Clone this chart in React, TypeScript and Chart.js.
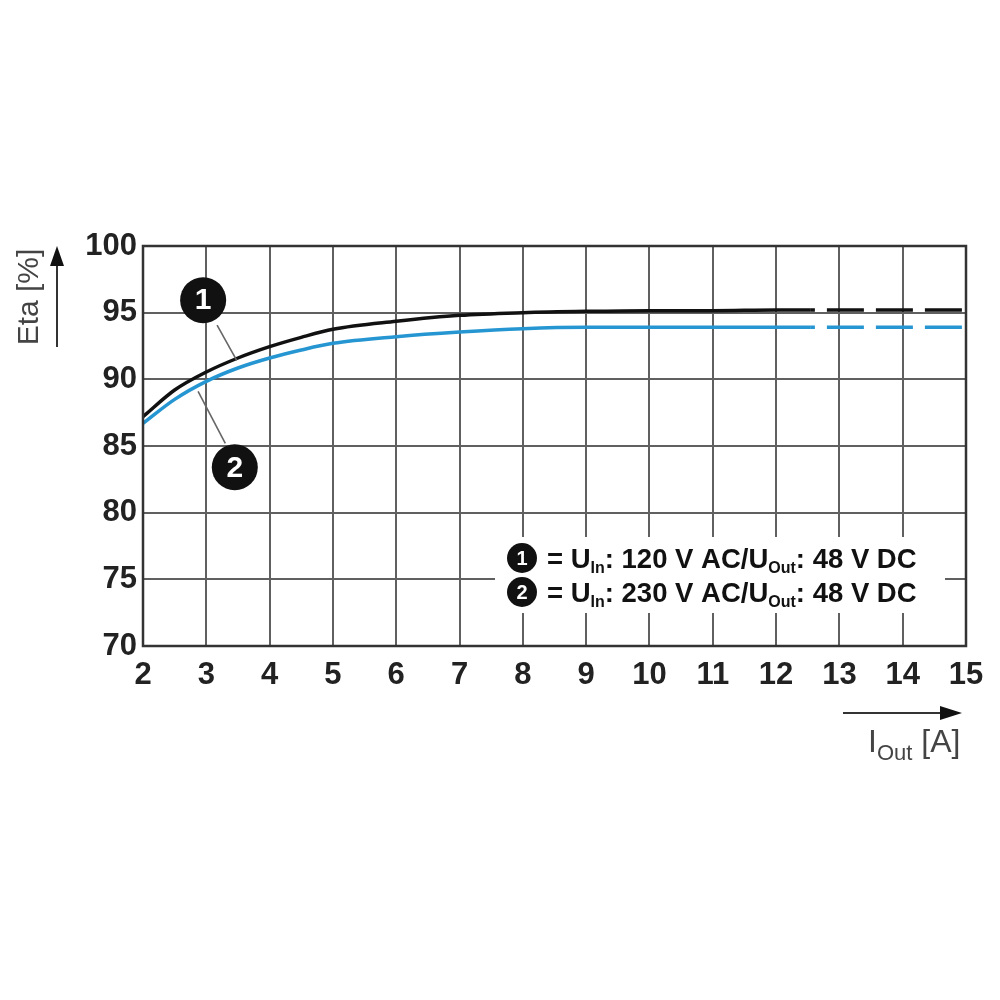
import { useEffect, useRef } from "react";
import { Chart, registerables } from "chart.js";

Chart.register(...registerables);

// output current in A
const currentA = [2, 2.5, 3, 3.5, 4, 4.5, 5, 6, 7, 8, 9, 10, 11, 12, 12.55, 15];
// efficiency in %, curve 1 (120 V AC in) and curve 2 (230 V AC in)
const eta120 = [87.2, 89.2, 90.55, 91.6, 92.45, 93.15, 93.75, 94.35, 94.8, 95.0, 95.1, 95.15, 95.15, 95.2, 95.2, 95.2];
const eta230 = [86.7, 88.5, 89.85, 90.85, 91.6, 92.2, 92.7, 93.2, 93.55, 93.8, 93.9, 93.9, 93.9, 93.9, 93.9, 93.9];
// beyond this current the curves are drawn dashed
const measuredUpTo = 12.55;

const xTicks = [2, 3, 4, 5, 6, 7, 8, 9, 10, 11, 12, 13, 14, 15];
const yTicks = [70, 75, 80, 85, 90, 95, 100];

const markerLabels = ["1", "2"];
const inputVoltages = ["120", "230"];
const outputVoltage = "48";

const FONT = "'Liberation Sans', Arial, sans-serif";
const BLUE = "#2596d1";

type Pt = [number, number];
// callout anchors in data units: circle centre, leader start, leader end
const markerCircles: Pt[] = [
  [2.95, 95.94],
  [3.45, 83.4],
];
const markerLeaders: [Pt, Pt][] = [
  [
    [3.17, 94.06],
    [3.48, 91.43],
  ],
  [
    [2.87, 89.1],
    [3.3, 85.2],
  ],
];

const drawBullet = (ctx: CanvasRenderingContext2D, x: number, y: number, r: number, label: string, size: number) => {
  ctx.beginPath();
  ctx.arc(x, y, r, 0, Math.PI * 2);
  ctx.fillStyle = "#111";
  ctx.fill();
  ctx.fillStyle = "#fff";
  ctx.font = `bold ${size}px ${FONT}`;
  ctx.textAlign = "center";
  ctx.textBaseline = "middle";
  ctx.fillText(label, x, y + 1);
};

// draws text pieces left to right; pieces with sub=true are lowered and smaller
const drawRich = (
  ctx: CanvasRenderingContext2D,
  parts: { t: string; sub?: boolean }[],
  x: number,
  y: number,
  main: string,
  sub: string,
  drop: number
) => {
  ctx.textAlign = "left";
  ctx.textBaseline = "alphabetic";
  let cx = x;
  parts.forEach((p) => {
    ctx.font = p.sub ? sub : main;
    ctx.fillText(p.t, cx, p.sub ? y + drop : y);
    cx += ctx.measureText(p.t).width;
  });
};

const decorPlugin = {
  id: "decor",
  beforeDatasetsDraw(chart: Chart) {
    const { ctx, chartArea: a } = chart;
    ctx.save();
    ctx.fillStyle = "#fff";
    ctx.fillRect(a.right - 471, a.bottom - 109, 450, 76);
    ctx.restore();
  },
  afterDraw(chart: Chart) {
    const { ctx, chartArea: a } = chart;
    const xs = chart.scales.x;
    const ys = chart.scales.y;
    ctx.save();

    // frame
    ctx.strokeStyle = "#333";
    ctx.lineWidth = 2.5;
    ctx.strokeRect(a.left, a.top, a.right - a.left, a.bottom - a.top);

    // callouts
    ctx.strokeStyle = "#666";
    ctx.lineWidth = 1.6;
    markerLeaders.forEach(([p, q]) => {
      ctx.beginPath();
      ctx.moveTo(xs.getPixelForValue(p[0]), ys.getPixelForValue(p[1]));
      ctx.lineTo(xs.getPixelForValue(q[0]), ys.getPixelForValue(q[1]));
      ctx.stroke();
    });
    markerCircles.forEach(([mx, my], i) => {
      drawBullet(ctx, xs.getPixelForValue(mx), ys.getPixelForValue(my), 23, markerLabels[i], 30);
    });

    // legend
    const lx = a.right - 444;
    inputVoltages.forEach((v, i) => {
      const cy = a.bottom - 88 + i * 34;
      drawBullet(ctx, lx, cy, 15, markerLabels[i], 20);
      ctx.fillStyle = "#111";
      drawRich(
        ctx,
        [
          { t: "= U" },
          { t: "In", sub: true },
          { t: `: ${v} V AC/U` },
          { t: "Out", sub: true },
          { t: `: ${outputVoltage} V DC` },
        ],
        lx + 25,
        cy + 10,
        `bold 27.5px ${FONT}`,
        `bold 16px ${FONT}`,
        5
      );
    });

    // y axis title and arrow
    ctx.fillStyle = "#444";
    ctx.strokeStyle = "#333";
    ctx.save();
    ctx.translate(30, a.top + 51);
    ctx.rotate(-Math.PI / 2);
    ctx.font = `30px ${FONT}`;
    ctx.textAlign = "center";
    ctx.textBaseline = "middle";
    ctx.fillText("Eta [%]", 0, 0);
    ctx.restore();
    ctx.lineWidth = 2;
    ctx.beginPath();
    ctx.moveTo(57, a.top + 101);
    ctx.lineTo(57, a.top + 16);
    ctx.stroke();
    ctx.fillStyle = "#111";
    ctx.beginPath();
    ctx.moveTo(57, a.top);
    ctx.lineTo(50, a.top + 20);
    ctx.lineTo(64, a.top + 20);
    ctx.closePath();
    ctx.fill();

    // x axis title and arrow
    const ay = a.bottom + 67;
    ctx.beginPath();
    ctx.moveTo(a.right - 123, ay);
    ctx.lineTo(a.right - 20, ay);
    ctx.stroke();
    ctx.beginPath();
    ctx.moveTo(a.right - 4, ay);
    ctx.lineTo(a.right - 26, ay - 7);
    ctx.lineTo(a.right - 26, ay + 7);
    ctx.closePath();
    ctx.fill();
    ctx.fillStyle = "#444";
    drawRich(
      ctx,
      [{ t: "I" }, { t: "Out", sub: true }, { t: " [A]" }],
      a.right - 98,
      a.bottom + 106,
      `32px ${FONT}`,
      `22px ${FONT}`,
      8
    );

    ctx.restore();
  },
};

const EfficiencyChart: React.FC = () => {
  const canvasRef = useRef<HTMLCanvasElement>(null);
  const chartRef = useRef<Chart<"line"> | null>(null);

  useEffect(() => {
    if (!canvasRef.current) return;
    const ctx = canvasRef.current.getContext("2d");
    if (!ctx) return;

    const segment = {
      borderDash: (c: any) => (c.p0.parsed.x >= measuredUpTo - 0.001 ? [37, 12] : undefined),
      borderDashOffset: (c: any) => (c.p0.parsed.x >= measuredUpTo - 0.001 ? 33 : undefined),
    };

    const gridStyle = { color: "#606060", lineWidth: 2, drawTicks: false };
    const tickFont = { family: FONT, size: 31, weight: "bold" as const };

    chartRef.current = new Chart(ctx, {
      type: "line",
      data: {
        datasets: [
          {
            label: "1",
            data: currentA.map((x, i) => ({ x, y: eta120[i] })),
            borderColor: "#111",
            borderWidth: 3.5,
            pointRadius: 0,
            cubicInterpolationMode: "monotone",
            segment,
            order: 1,
          },
          {
            label: "2",
            data: currentA.map((x, i) => ({ x, y: eta230[i] })),
            borderColor: BLUE,
            borderWidth: 3.5,
            pointRadius: 0,
            cubicInterpolationMode: "monotone",
            segment,
            order: 2,
          },
        ],
      },
      options: {
        animation: false,
        responsive: true,
        maintainAspectRatio: false,
        layout: { padding: { top: 246, right: 34, left: 0, bottom: 0 } },
        plugins: { legend: { display: false }, tooltip: { enabled: false } },
        scales: {
          x: {
            type: "linear",
            min: xTicks[0],
            max: xTicks[xTicks.length - 1],
            afterBuildTicks: (s: any) => {
              s.ticks = xTicks.map((value) => ({ value }));
            },
            afterFit: (s: any) => {
              s.height = 354;
            },
            grid: gridStyle,
            border: { display: false },
            ticks: { font: tickFont, color: "#222", padding: 11, maxRotation: 0, autoSkip: false },
          },
          y: {
            min: yTicks[0],
            max: yTicks[yTicks.length - 1],
            afterBuildTicks: (s: any) => {
              s.ticks = yTicks.map((value) => ({ value }));
            },
            afterFit: (s: any) => {
              s.width = 143;
            },
            grid: gridStyle,
            border: { display: false },
            ticks: { font: tickFont, color: "#222", padding: 6, autoSkip: false },
          },
        },
      },
      plugins: [decorPlugin],
    });

    return () => {
      chartRef.current?.destroy();
      chartRef.current = null;
    };
  }, []);

  return (
    <div style={{ position: "absolute", left: 0, top: 0, width: 1000, height: 1000, background: "#fff" }}>
      <canvas ref={canvasRef}></canvas>
    </div>
  );
};

export default function App() {
  return <EfficiencyChart />;
}
